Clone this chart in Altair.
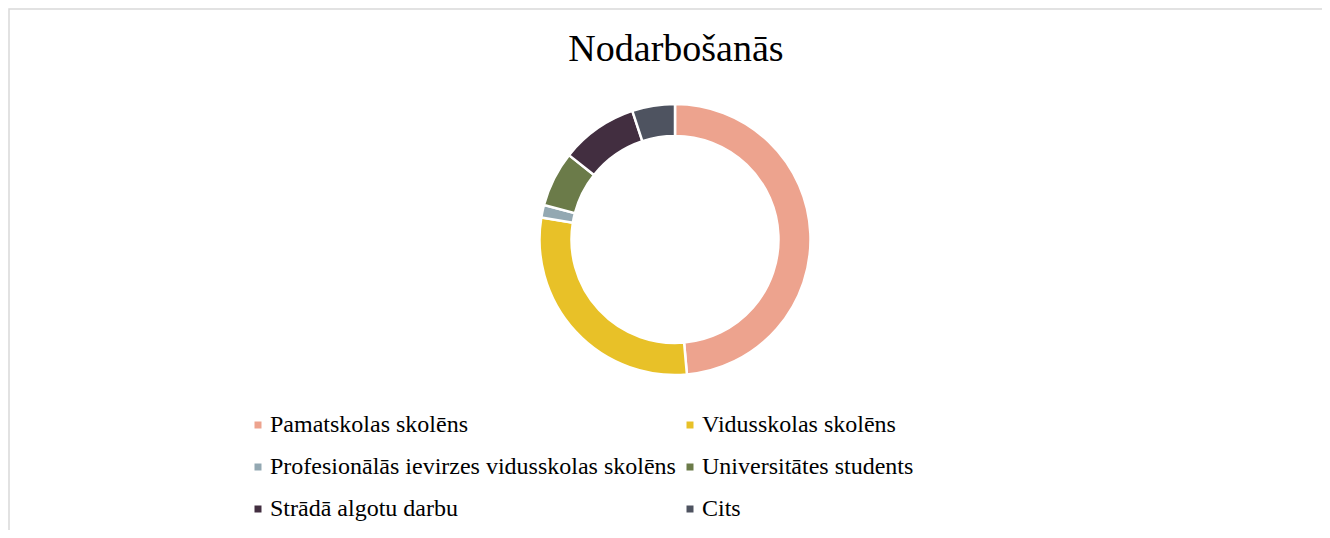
import altair as alt
import pandas as pd

title_text = "Nodarbošanās"
categories = [
    "Pamatskolas skolēns",
    "Vidusskolas skolēns",
    "Profesionālās ievirzes vidusskolas skolēns",
    "Universitātes students",
    "Strādā algotu darbu",
    "Cits",
]
values = [48.6, 29.0, 1.5, 6.6, 9.2, 5.1]
colors = ["#EDA38E", "#E8C128", "#93A8B2", "#6B7B49", "#422E40", "#4E5360"]

df = pd.DataFrame({"cat": categories, "value": values, "idx": list(range(len(categories)))})

FONT = "Liberation Serif"

frame = alt.Chart(pd.DataFrame({"f": [0]})).mark_rect(
    fill=None, stroke="#D9D9D9", strokeWidth=1.5
).encode(
    x=alt.value(1), x2=alt.value(3000), y=alt.value(1), y2=alt.value(3000)
)

title = alt.Chart(pd.DataFrame({"t": [title_text]})).mark_text(
    font=FONT, fontSize=38, color="#000000", align="center", baseline="alphabetic"
).encode(
    text="t:N", x=alt.value(668), y=alt.value(53)
)

donut = alt.Chart(df).mark_arc(
    innerRadius=103.5, outerRadius=135.5, stroke="white", strokeWidth=2.5
).encode(
    theta=alt.Theta("value:Q", stack=True),
    order=alt.Order("idx:Q"),
    color=alt.Color(
        "cat:N",
        sort=categories,
        scale=alt.Scale(domain=categories, range=colors),
        legend=alt.Legend(
            title=None,
            orient="none",
            direction="horizontal",
            legendX=238,
            legendY=405,
            columns=2,
            columnPadding=2,
            rowPadding=18,
            symbolType="square",
            symbolSize=49,
            symbolStrokeWidth=0,
            labelFont=FONT,
            labelFontSize=24,
            labelColor="#000000",
            labelOffset=0,
            labelLimit=0,
            padding=0,
        ),
    ),
    x=alt.value(667),
    y=alt.value(231.5),
)

chart = alt.layer(frame, donut, title).properties(
    width=1314,
    height=522,
    padding=0,
    autosize=alt.AutoSizeParams(type="none"),
).configure_view(stroke=None)

chart.save("out.html", embed_options={"renderer": "svg", "actions": False})
